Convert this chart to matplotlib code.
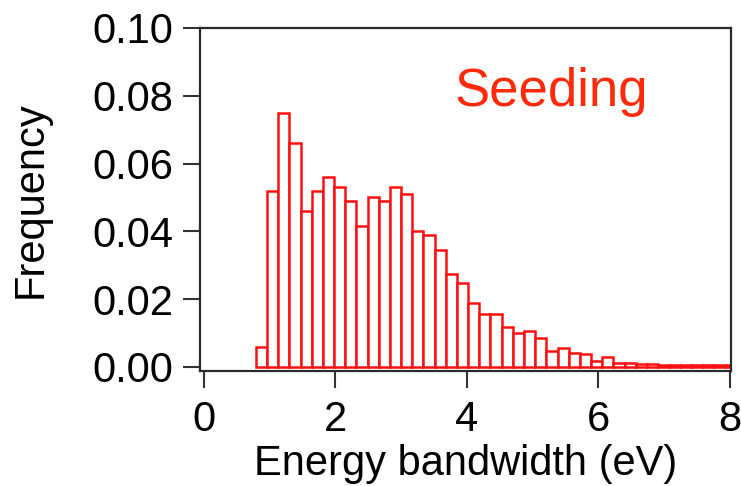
import numpy as np
import matplotlib
matplotlib.use("Agg")
import matplotlib.pyplot as plt

# histogram of energy bandwidth
BIN_START = 0.79
BIN_WIDTH = 0.17
FREQ = [
    0.006, 0.052, 0.075, 0.066, 0.046, 0.052, 0.056, 0.053, 0.049, 0.0415,
    0.050, 0.049, 0.053, 0.051, 0.040, 0.039, 0.0346, 0.0274, 0.0248, 0.0188,
    0.0157, 0.0157, 0.0119, 0.0101, 0.0107, 0.0085, 0.0048, 0.0057, 0.0040, 0.0039,
    0.0018, 0.0030, 0.0012, 0.0012, 0.0009, 0.0008, 0.0007, 0.0006, 0.0006, 0.0005,
    0.0005, 0.0005, 0.0006,
]
X_TICKS = [0, 2, 4, 6, 8]
Y_TICKS = [0.00, 0.02, 0.04, 0.06, 0.08, 0.10]
LABEL = "Seeding"

plt.rcParams["font.family"] = ["Liberation Sans", "DejaVu Sans"]

fig = plt.figure(figsize=(7.41, 4.86), dpi=100)
ax = fig.add_axes([0.2699, 0.2366, 0.7166, 0.7058])

lefts = BIN_START + BIN_WIDTH * np.arange(len(FREQ))
ax.bar(lefts, FREQ, width=BIN_WIDTH, align="edge", facecolor="white",
       edgecolor="#ff1010", linewidth=1.8)

ax.set_xlim(-0.06, 8.02)
ax.set_ylim(-0.0012, 0.1)
ax.set_xticks(X_TICKS)
ax.set_yticks(Y_TICKS)
ax.set_yticklabels([f"{v:.2f}" for v in Y_TICKS])

for s in ax.spines.values():
    s.set_linewidth(1.6)
    s.set_color("#2a2a2a")
ax.tick_params(axis="both", direction="out", length=12, width=1.5, color="#333333",
               labelsize=30)
ax.tick_params(axis="y", pad=7)
ax.tick_params(axis="x", pad=9)

ax.set_xlabel("Energy bandwidth (eV)", fontsize=30, va="baseline")
ax.xaxis.set_label_coords(0.501, -0.303)
ax.set_ylabel("Frequency", fontsize=30, labelpad=30)

ax.text(3.82, 0.077, LABEL, color="#ff2a0a", fontsize=38, ha="left", va="baseline")

fig.savefig("out.png", dpi=100)
